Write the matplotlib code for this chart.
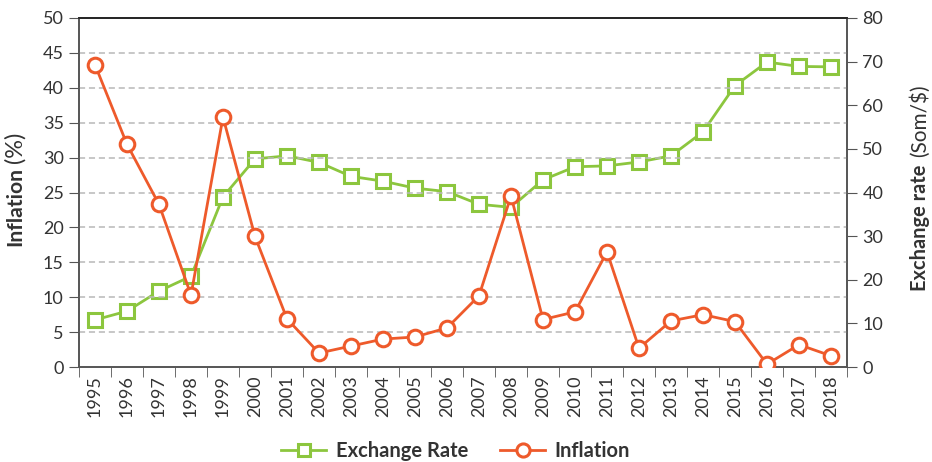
import matplotlib
matplotlib.use("Agg")
import matplotlib.pyplot as plt
import numpy as np

years = [str(y) for y in range(1995, 2019)]
inflation = [43.3, 31.9, 23.3, 10.3, 35.8, 18.7, 6.9, 2.0, 3.0, 4.0, 4.3, 5.6,
             10.2, 24.5, 6.8, 7.9, 16.5, 2.7, 6.6, 7.5, 6.5, 0.4, 3.2, 1.6]
exchange = [10.8, 12.8, 17.4, 20.8, 39.0, 47.7, 48.4, 46.9, 43.7, 42.6, 41.0, 40.2,
            37.3, 36.6, 42.9, 45.9, 46.1, 47.0, 48.4, 53.9, 64.5, 69.9, 68.9, 68.8]

GREEN = "#8CC63E"
RED = "#EE5A2B"
TXT = "#333333"
plt.rcParams['font.family'] = ['Lato', 'DejaVu Sans']

W, H = 932, 462
fig = plt.figure(figsize=(W/100, H/100), dpi=100)
ax = fig.add_axes([79/W, 95/H, 768/W, 349/H])
ax2 = ax.twinx()

x = np.arange(len(years))
ax2.plot(x, exchange, color=GREEN, lw=2, marker='s', ms=10, mfc='white',
         mec=GREEN, mew=2.2, zorder=3, label='Exchange Rate')
ax.plot(x, inflation, color=RED, lw=2, marker='o', ms=10.5, mfc='white',
        mec=RED, mew=2.2, zorder=3, label='Inflation')
ax.set_zorder(ax2.get_zorder() + 1)
ax.patch.set_visible(False)

ax.set_xlim(-0.5, len(years) - 0.5)
ax.set_ylim(0, 50)
ax2.set_ylim(0, 80)
ax.set_yticks(np.arange(0, 51, 5))
ax2.set_yticks(np.arange(0, 81, 10))
for yv in range(5, 50, 5):
    ax.axhline(yv, color='#b8b8b8', lw=1.1, ls=(0, (4, 2.5)), zorder=0)

ax.set_xticks(x)
ax.set_xticklabels(years, rotation=90, fontsize=13, color=TXT)
ax.tick_params(axis='x', which='major', length=0, pad=6)
ax.set_xticks(np.arange(-0.5, len(years), 1), minor=True)
ax.tick_params(axis='x', which='minor', length=7, color='#555555', direction='out')
ax.tick_params(axis='y', labelsize=13, labelcolor=TXT, length=7, color='#555555', pad=4)
ax2.tick_params(axis='y', labelsize=13, labelcolor=TXT, length=7, color='#555555', pad=4)

for a in (ax, ax2):
    for s in ('left', 'right', 'bottom'):
        a.spines[s].set_color('#555555')
        a.spines[s].set_linewidth(1.2)
    a.spines['top'].set_color('#222222')
    a.spines['top'].set_linewidth(1.2)

renderer = fig.canvas.get_renderer()

def fitted(xpx, ypx, s, length_px, va, bold):
    t = fig.text(xpx/W, 1 - ypx/H, s, rotation=90, ha='center', va=va,
                 fontsize=13, fontweight='bold' if bold else 'normal', color=TXT)
    ext = t.get_window_extent(renderer)
    t.set_fontsize(13 * length_px / ext.height)
    return t

fitted(15, 246, "Inflation", 79, 'bottom', True)
fitted(15, 132, "(%)", 31, 'top', False)
fitted(920, 291, "Exchange rate", 126, 'bottom', True)
fitted(920, 85, "(Som/\\$)", 72, 'top', False)

h1, l1 = ax2.get_legend_handles_labels()
h2, l2 = ax.get_legend_handles_labels()
leg = fig.legend(h1 + h2, l1 + l2, loc='center', bbox_to_anchor=(0.489, 1 - 451/H),
                 ncol=2, frameon=False, fontsize=14.5, handlelength=2.2,
                 columnspacing=1.6, handletextpad=0.5, markerscale=0.9)
for t in leg.get_texts():
    t.set_fontweight('bold')
    t.set_color(TXT)

fig.savefig("out.png", dpi=100)
